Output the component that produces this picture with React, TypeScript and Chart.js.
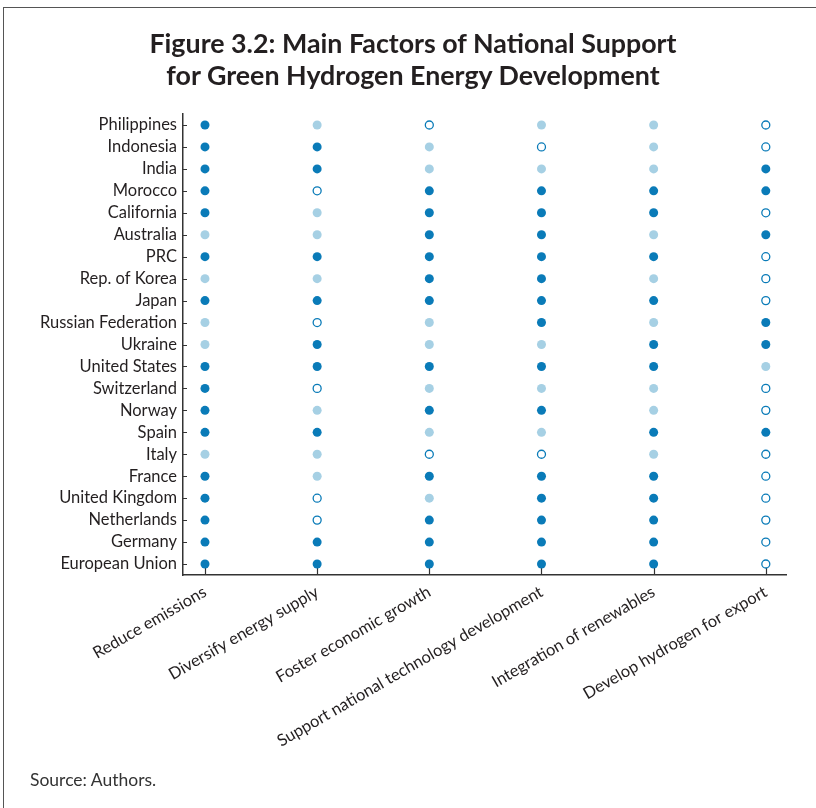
import React, { useEffect, useRef } from "react";
import { Chart, registerables } from "chart.js";

Chart.register(...registerables);

const countries = [
  "Philippines",
  "Indonesia",
  "India",
  "Morocco",
  "California",
  "Australia",
  "PRC",
  "Rep. of Korea",
  "Japan",
  "Russian Federation",
  "Ukraine",
  "United States",
  "Switzerland",
  "Norway",
  "Spain",
  "Italy",
  "France",
  "United Kingdom",
  "Netherlands",
  "Germany",
  "European Union",
];

const factors = [
  "Reduce emissions",
  "Diversify energy supply",
  "Foster economic growth",
  "Support national technology development",
  "Integration of renewables",
  "Develop hydrogen for export",
];

// D = dark filled dot, L = light filled dot, O = hollow dot (one entry per country, top to bottom)
const reduceEmissions = ["D","D","D","D","D","L","D","L","D","L","L","D","D","D","D","L","D","D","D","D","D"];
const diversifyEnergySupply = ["L","D","D","O","L","L","D","L","D","O","D","D","O","L","D","L","L","O","O","D","D"];
const fosterEconomicGrowth = ["O","L","L","D","D","D","D","D","D","L","L","D","L","D","L","O","D","L","D","D","D"];
const supportTechnology = ["L","O","L","D","D","D","D","D","D","D","L","D","L","D","L","O","D","D","D","D","D"];
const integrationRenewables = ["L","L","L","D","D","L","D","L","D","L","D","D","L","L","D","L","D","D","D","D","D"];
const developExport = ["O","O","D","D","O","D","O","O","O","D","D","L","O","O","D","O","O","O","O","O","O"];

const factorStatus = [
  reduceEmissions,
  diversifyEnergySupply,
  fosterEconomicGrowth,
  supportTechnology,
  integrationRenewables,
  developExport,
];

const DARK = "#0a7bb8";
const LIGHT = "#a6d0e4";
const AXIS = "#333333";
const TEXT = "#231f20";
const FONT = "Lato, 'Open Sans', sans-serif";

function pointsFor(code: string) {
  const pts: { x: number; y: string }[] = [];
  factorStatus.forEach((col, fi) => {
    col.forEach((s, ci) => {
      if (s === code) pts.push({ x: fi, y: countries[ci] });
    });
  });
  return pts;
}

const innerTicks = {
  id: "innerTicks",
  beforeDatasetsDraw(chart: any) {
    const { ctx, chartArea, scales } = chart;
    ctx.save();
    ctx.strokeStyle = AXIS;
    ctx.lineWidth = 1.2;
    ctx.beginPath();
    scales.y.ticks.forEach((_: any, i: number) => {
      const y = Math.round(scales.y.getPixelForTick(i)) + 0.5;
      ctx.moveTo(chartArea.left, y);
      ctx.lineTo(chartArea.left + 4, y);
    });
    scales.x.ticks.forEach((_: any, i: number) => {
      const x = Math.round(scales.x.getPixelForTick(i)) + 0.5;
      ctx.moveTo(x, chartArea.bottom);
      ctx.lineTo(x, chartArea.bottom - 9);
    });
    ctx.stroke();
    ctx.restore();
  },
};

export default function App() {
  const ref = useRef<HTMLCanvasElement | null>(null);

  useEffect(() => {
    if (!ref.current) return;
    const chart = new Chart(ref.current, {
      type: "scatter",
      data: {
        datasets: [
          {
            label: "Strong",
            data: pointsFor("D"),
            backgroundColor: DARK,
            borderColor: DARK,
            borderWidth: 0,
            pointRadius: 4.5,
          },
          {
            label: "Moderate",
            data: pointsFor("L"),
            backgroundColor: LIGHT,
            borderColor: LIGHT,
            borderWidth: 0,
            pointRadius: 4.5,
          },
          {
            label: "Minor",
            data: pointsFor("O"),
            backgroundColor: "#ffffff",
            borderColor: DARK,
            borderWidth: 1.3,
            pointRadius: 4,
          },
        ] as any,
      },
      options: {
        animation: false,
        responsive: false,
        maintainAspectRatio: false,
        layout: { padding: { top: 114, right: 30, left: 0, bottom: 33 } },
        plugins: {
          legend: { display: false },
          tooltip: { enabled: false },
          title: { display: false },
        },
        scales: {
          x: {
            type: "linear",
            min: -0.196,
            max: 5.18,
            afterBuildTicks: (scale: any) => {
              scale.ticks = factors.map((_, i) => ({ value: i }));
            },
            afterFit: (scale: any) => {
              scale.height = 200;
            },
            grid: { display: true, drawOnChartArea: false, drawTicks: false },
            border: { display: true, color: AXIS, width: 1.5 },
            ticks: {
              autoSkip: false,
              minRotation: 30,
              maxRotation: 30,
              padding: 7,
              color: TEXT,
              font: { family: FONT, size: 16.5 },
              callback: (v: any) => factors[v] ?? "",
            },
          },
          y: {
            type: "category",
            labels: countries,
            offset: true,
            afterFit: (scale: any) => {
              scale.width = 183;
            },
            grid: { display: true, drawOnChartArea: false, drawTicks: false },
            border: { display: true, color: AXIS, width: 1.5 },
            ticks: {
              autoSkip: false,
              padding: 6,
              color: TEXT,
              font: { family: FONT, size: 16.5 },
            },
          },
        },
      } as any,
      plugins: [innerTicks],
    });
    return () => chart.destroy();
  }, []);

  return (
    <div
      style={{
        position: "absolute",
        left: 0,
        top: 0,
        width: 816,
        height: 808,
        background: "#ffffff",
        overflow: "hidden",
      }}
    >
      <div
        style={{
          position: "absolute",
          left: 3,
          top: 7,
          width: 830,
          height: 820,
          borderTop: "1.5px solid #555",
          borderLeft: "1.5px solid #555",
        }}
      />
      <canvas
        ref={ref}
        width={816}
        height={808}
        style={{ position: "absolute", left: 0, top: 0, width: 816, height: 808 }}
      />
      <div
        style={{
          position: "absolute",
          left: 8,
          top: 27,
          width: 810,
          textAlign: "center",
          fontFamily: FONT,
          fontWeight: 700,
          fontSize: 26.8,
          lineHeight: "32px",
          color: TEXT,
          pointerEvents: "none",
        }}
      >
        Figure 3.2: Main Factors of National Support
        <br />
        for Green Hydrogen Energy Development
      </div>
      <div
        style={{
          position: "absolute",
          left: 30,
          top: 769,
          fontFamily: FONT,
          fontSize: 17.5,
          color: "#333333",
          pointerEvents: "none",
        }}
      >
        Source: Authors.
      </div>
    </div>
  );
}
